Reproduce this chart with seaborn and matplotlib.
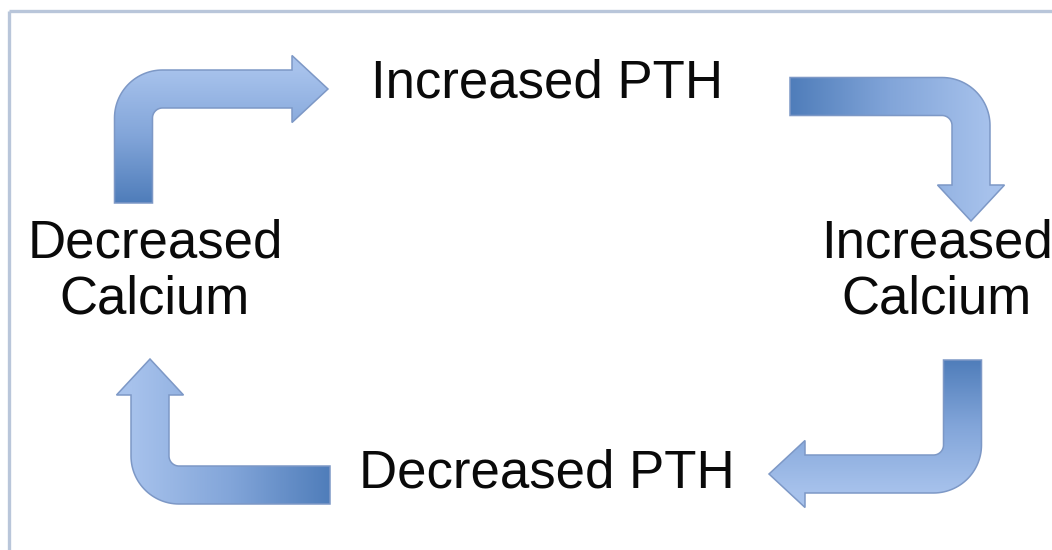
import numpy as np
import matplotlib
matplotlib.use("Agg")
import matplotlib.pyplot as plt
from matplotlib.path import Path
from matplotlib.patches import PathPatch
import seaborn as sns

# cycle labels, clockwise from the top
labels = ["Increased PTH", "Increased\nCalcium", "Decreased PTH", "Decreased\nCalcium"]

# layout (pixel coords, y down)
label_x = [547, 937, 547, 155]
label_y = [97, 257, 488, 257]          # baseline of first line
line_gap = 57

arrow_tail = [(133.5, 203), (790, 96.5), (330, 485), (962.5, 360)]
arrow_corner = [(133.5, 89), (971, 96.5), (150, 485), (962.5, 474)]
arrow_head = [(292, 89), (971, 185), (150, 395), (805, 474)]

sns.set_theme(style="white")
plt.rcParams['font.family'] = ['Liberation Sans', 'DejaVu Sans']

cmap = sns.blend_palette(["#4f7dba", "#82a5d9", "#a7c2ec"], as_cmap=True)


def bent_arrow(tail, corner, head, w=38, hw=67, hl=36, rc=29, n=30):
    S, C, E = (np.asarray(p, dtype=float) for p in (tail, corner, head))
    d1 = (C - S) / np.linalg.norm(C - S)
    d2 = (E - C) / np.linalg.norm(E - C)
    ctr = C - d1 * rc + d2 * rc
    a0 = np.arctan2(-d2[1], -d2[0])
    a1 = np.arctan2(d1[1], d1[0])
    da = (a1 - a0 + np.pi) % (2 * np.pi) - np.pi
    t = a0 + da * np.linspace(0, 1, n)
    u = np.column_stack([np.cos(t), np.sin(t)])
    outer = ctr + (rc + w / 2) * u
    inner = ctr + (rc - w / 2) * u
    pts = [S - d2 * w / 2, *outer, E + d1 * w / 2, E + d1 * hw / 2,
           E + d2 * hl, E - d1 * hw / 2, E - d1 * w / 2, *inner[::-1],
           S + d2 * w / 2, S - d2 * w / 2]
    pts = np.array(pts)
    codes = [Path.MOVETO] + [Path.LINETO] * (len(pts) - 2) + [Path.CLOSEPOLY]
    return Path(pts, codes), S, d1, np.linalg.norm(C - S) + w / 2


fig = plt.figure(figsize=(10.52, 5.5), dpi=100)
ax = fig.add_axes([0, 0, 1, 1])
ax.set_xlim(0, 1052)
ax.set_ylim(550, 0)
ax.axis("off")

# frame (only left and top visible)
ax.plot([9, 9], [550, 11], color="#b9c6da", lw=2.4, solid_capstyle="butt")
ax.plot([9, 1052], [11, 11], color="#b9c6da", lw=2.4, solid_capstyle="butt")

for tail, corner, head in zip(arrow_tail, arrow_corner, arrow_head):
    path, S, d1, L = bent_arrow(tail, corner, head)
    x0, y0 = path.vertices.min(axis=0) - 2
    x1, y1 = path.vertices.max(axis=0) + 2
    X, Y = np.meshgrid(np.linspace(x0, x1, 300), np.linspace(y0, y1, 300))
    val = np.clip(((X - S[0]) * d1[0] + (Y - S[1]) * d1[1]) / L, 0, 1)
    patch = PathPatch(path, facecolor="none", edgecolor="#7d98c6", lw=1.1, zorder=3)
    ax.add_patch(patch)
    im = ax.imshow(val, extent=[x0, x1, y1, y0], origin="upper", cmap=cmap,
                   vmin=0, vmax=1, zorder=2, interpolation="bilinear")
    im.set_clip_path(patch)

for lab, x, y in zip(labels, label_x, label_y):
    for i, line in enumerate(lab.split("\n")):
        ax.text(x, y + i * line_gap, line, ha="center", va="baseline",
                fontsize=38, color="#0a0a0a")

ax.set_xlim(0, 1052)
ax.set_ylim(550, 0)
fig.savefig("out.png", dpi=100)
print("finished.")
